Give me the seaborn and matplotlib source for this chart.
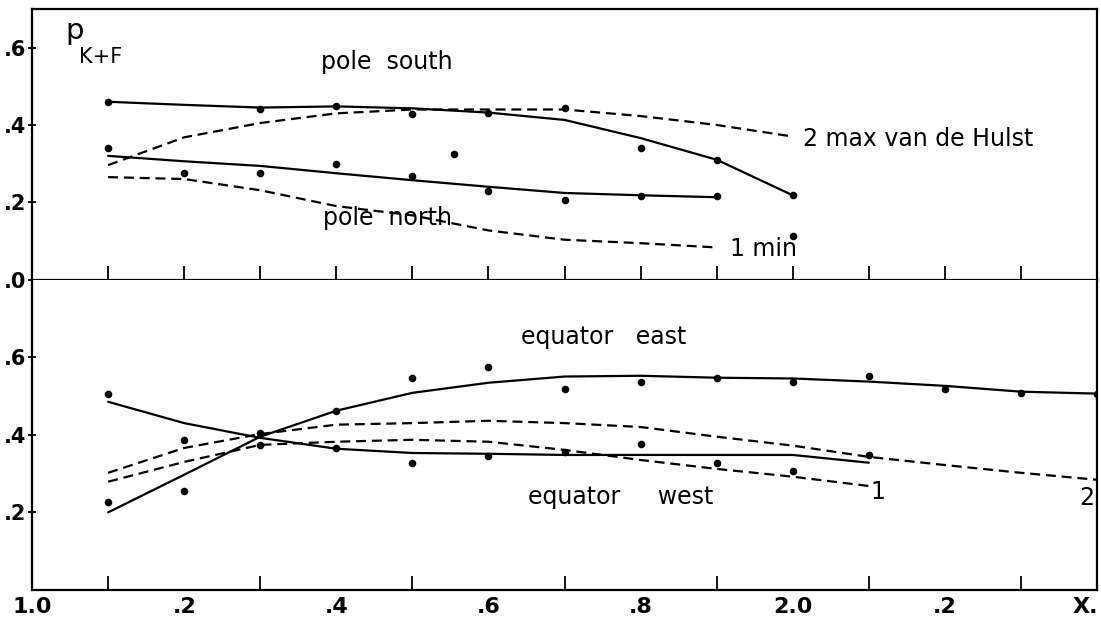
import matplotlib
matplotlib.use("Agg")
import matplotlib.pyplot as plt
import numpy as np
import pandas as pd
import seaborn as sns

# ---------------- data ----------------
# upper panel: pole
ps_line_x = [1.1, 1.2, 1.3, 1.4, 1.5, 1.6, 1.7, 1.8, 1.9, 2.0]
ps_line_y = [0.460, 0.452, 0.445, 0.448, 0.443, 0.432, 0.413, 0.366, 0.310, 0.218]
ps_dots_x = [1.1, 1.3, 1.4, 1.5, 1.6, 1.7, 1.8, 1.9, 2.0]
ps_dots_y = [0.460, 0.440, 0.450, 0.428, 0.430, 0.444, 0.340, 0.310, 0.218]

pn_line_x = [1.1, 1.2, 1.3, 1.4, 1.5, 1.6, 1.7, 1.8, 1.9]
pn_line_y = [0.320, 0.306, 0.294, 0.275, 0.257, 0.240, 0.224, 0.218, 0.213]
pn_dots_x = [1.1, 1.2, 1.3, 1.4, 1.5, 1.555, 1.6, 1.7, 1.8, 1.9, 2.0]
pn_dots_y = [0.340, 0.275, 0.275, 0.300, 0.268, 0.325, 0.228, 0.207, 0.216, 0.216, 0.112]

max_x = [1.1, 1.2, 1.3, 1.4, 1.5, 1.6, 1.7, 1.8, 1.9, 2.0]
max_y = [0.296, 0.368, 0.405, 0.430, 0.440, 0.440, 0.440, 0.423, 0.400, 0.370]
min_x = [1.1, 1.2, 1.3, 1.4, 1.5, 1.6, 1.7, 1.8, 1.9]
min_y = [0.265, 0.260, 0.231, 0.190, 0.166, 0.127, 0.103, 0.094, 0.083]

# lower panel: equator
east_x = [1.1, 1.2, 1.3, 1.4, 1.5, 1.6, 1.7, 1.8, 1.9, 2.0, 2.1, 2.2, 2.3, 2.4]
east_line_y = [0.200, 0.297, 0.395, 0.462, 0.508, 0.534, 0.550, 0.552, 0.547, 0.545,
               0.537, 0.526, 0.511, 0.506]
east_dots_y = [0.227, 0.255, 0.405, 0.460, 0.547, 0.575, 0.519, 0.537, 0.547, 0.537,
               0.552, 0.519, 0.508, 0.506]

west_x = [1.1, 1.2, 1.3, 1.4, 1.5, 1.6, 1.7, 1.8, 1.9, 2.0, 2.1]
west_line_y = [0.485, 0.430, 0.392, 0.364, 0.353, 0.351, 0.348, 0.348, 0.348, 0.348, 0.328]
west_dots_y = [0.506, 0.387, 0.374, 0.366, 0.327, 0.346, 0.356, 0.377, 0.328, 0.307, 0.348]

d2_x = [1.1, 1.2, 1.3, 1.4, 1.5, 1.6, 1.7, 1.8, 1.9, 2.0, 2.1, 2.2, 2.3, 2.4]
d2_y = [0.302, 0.366, 0.402, 0.426, 0.430, 0.436, 0.430, 0.420, 0.395, 0.372,
        0.343, 0.322, 0.302, 0.284]
d1_x = [1.1, 1.2, 1.3, 1.4, 1.5, 1.6, 1.7, 1.8, 1.9, 2.0, 2.1]
d1_y = [0.279, 0.330, 0.374, 0.382, 0.387, 0.382, 0.361, 0.335, 0.312, 0.292, 0.268]

x_label_pos = [1.0, 1.2, 1.4, 1.6, 1.8, 2.0, 2.2, 2.385]
x_label_txt = ["1.0", ".2", ".4", ".6", ".8", "2.0", ".2", "X."]
top_yticks = [0.0, 0.2, 0.4, 0.6]
top_ylabels = [".0", ".2", ".4", ".6"]
bot_yticks = [0.2, 0.4, 0.6]
bot_ylabels = [".2", ".4", ".6"]

# ---------------- figure ----------------
sns.set_theme(style="white")
plt.rcParams["font.family"] = ["DejaVu Sans"]

fig = plt.figure(figsize=(11.01, 6.27), dpi=100)
ax1 = fig.add_axes([0.0291, 0.5542, 0.9673, 0.4314])
ax2 = fig.add_axes([0.0291, 0.0590, 0.9673, 0.4952])

K = "black"
LW = 1.6
DASH = (4.5, 2.6)

def solid(ax, x, y):
    sns.lineplot(x=x, y=y, ax=ax, color=K, lw=LW, estimator=None, sort=False)

def dashed(ax, x, y):
    sns.lineplot(x=x, y=y, ax=ax, color=K, lw=LW, estimator=None, sort=False,
                 linestyle=(0, DASH))

def dots(ax, x, y):
    sns.scatterplot(x=x, y=y, ax=ax, color=K, s=30, edgecolor=K, linewidth=0, zorder=5)

# upper
solid(ax1, ps_line_x, ps_line_y)
solid(ax1, pn_line_x, pn_line_y)
dashed(ax1, max_x, max_y)
dashed(ax1, min_x, min_y)
dots(ax1, ps_dots_x, ps_dots_y)
dots(ax1, pn_dots_x, pn_dots_y)

# lower
solid(ax2, east_x, east_line_y)
solid(ax2, west_x, west_line_y)
dashed(ax2, d2_x, d2_y)
dashed(ax2, d1_x, d1_y)
dots(ax2, east_x, east_dots_y)
dots(ax2, west_x, west_dots_y)

minor = np.round(np.arange(1.1, 2.31, 0.1), 2)
for ax in (ax1, ax2):
    ax.set_xlim(1.0, 2.4)
    for s in ax.spines.values():
        s.set_visible(True)
        s.set_color(K)
        s.set_linewidth(1.6)
    ax.set_xlabel("")
    ax.set_ylabel("")
    ax.set_xticks(minor, minor=True)
    ax.tick_params(axis="x", which="minor", direction="in", length=10, width=1.3,
                   color=K, bottom=True)
    ax.tick_params(axis="y", which="major", direction="inout", length=6, width=1.3,
                   color=K, left=True, pad=1, labelsize=15, labelcolor=K)
    ax.grid(False)

ax1.set_ylim(0, 0.70)
ax1.set_yticks(top_yticks)
ax1.set_yticklabels(top_ylabels, fontweight="bold")
ax1.set_xticks([])
ax1.tick_params(axis="x", which="major", length=0, labelbottom=False)

ax2.set_ylim(0, 0.80)
ax2.set_yticks(bot_yticks)
ax2.set_yticklabels(bot_ylabels, fontweight="bold")
ax2.spines["top"].set_visible(False)
ax2.set_xticks(x_label_pos)
ax2.set_xticklabels(x_label_txt, fontweight="bold")
ax2.tick_params(axis="x", which="major", length=0, pad=5, labelsize=16, labelcolor=K)

TF = 17
# upper annotations
ax1.text(1.056, 0.642, "p", fontsize=21, ha="center", va="center", color=K)
ax1.text(1.062, 0.575, "K+F", fontsize=15, ha="left", va="center", color=K)
ax1.text(1.467, 0.562, "pole  south", fontsize=TF, ha="center", va="center", color=K)
ax1.text(1.467, 0.158, "pole  north", fontsize=TF, ha="center", va="center", color=K)
ax1.text(2.014, 0.363, "2 max van de Hulst", fontsize=TF, ha="left", va="center", color=K)
ax1.text(1.918, 0.080, "1 min", fontsize=TF, ha="left", va="center", color=K)

# lower annotations
ax2.text(1.751, 0.652, "equator   east", fontsize=TF, ha="center", va="center", color=K)
ax2.text(1.774, 0.240, "equator     west", fontsize=TF, ha="center", va="center", color=K)
ax2.text(2.112, 0.253, "1", fontsize=TF, ha="center", va="center", color=K)
ax2.text(2.386, 0.237, "2", fontsize=TF, ha="center", va="center", color=K)

fig.savefig("out.png", dpi=100, facecolor="white")
